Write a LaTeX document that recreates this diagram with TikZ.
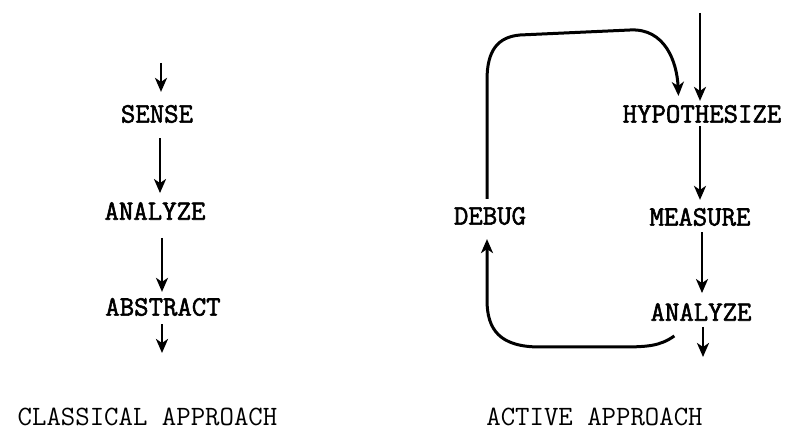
\documentclass[tikz,border=0pt]{standalone}
\usepackage{fontspec}
\setmonofont{Latin Modern Mono}[AutoFakeBold=2]
\usetikzlibrary{arrows.meta}
\begin{document}
\begin{tikzpicture}[x=1pt,y=-1pt,
  lbl/.style={font=\ttfamily\bfseries\fontsize{28}{28}\selectfont, inner sep=0pt},
  captiontext/.style={font=\ttfamily\fontsize{28}{28}\selectfont, inner sep=0pt},
  arrowtip/.style={-{Stealth[length=14pt,width=12pt,inset=4pt]}},
  flow/.style={line width=2.8pt, arrowtip},
  loopline/.style={line width=3pt, line join=round}]
\useasboundingbox (0,0) rectangle (790,435);
% left column
\node[lbl] (sense) at (157,114) {SENSE};
\node[lbl] (analyzeL) at (155,211) {ANALYZE};
\node[lbl] (abstract) at (163,307) {ABSTRACT};
\node[captiontext] (classical) at (147.5,417) {CLASSICAL APPROACH};
\coordinate (inL) at (161,63);
\coordinate (outL) at (162,353);
\draw[flow] (inL) -- ([xshift=4pt,yshift=13pt]sense.north);
\draw[flow] ([xshift=3pt,yshift=-15pt]sense.south) -- ([xshift=5pt,yshift=9pt]analyzeL.north);
\draw[flow] ([xshift=7pt,yshift=-18pt]analyzeL.south) -- ([xshift=-1pt,yshift=6pt]abstract.north);
\draw[flow] ([xshift=-1pt,yshift=-8pt]abstract.south) -- (outL);
% right column
\node[lbl] (hyp) at (702,114) {HYPOTHESIZE};
\node[lbl] (measure) at (700,217) {MEASURE};
\node[lbl] (analyzeR) at (701,312) {ANALYZE};
\node[lbl] (debug) at (490,216) {DEBUG};
\node[captiontext] (active) at (594.5,417) {ACTIVE APPROACH};
\coordinate (inR) at (700,13);
\coordinate (outR) at (703,357);
\draw[flow] (inR) -- ([xshift=-2pt,yshift=4pt]hyp.north);
\draw[flow] ([xshift=-2pt,yshift=-3pt]hyp.south) -- ([yshift=8pt]measure.north);
\draw[flow] ([xshift=2pt,yshift=-6pt]measure.south) -- ([xshift=1pt,yshift=10pt]analyzeR.north);
\draw[flow] ([xshift=2pt,yshift=-6pt]analyzeR.south) -- (outR);
% feedback loop: ANALYZE -> DEBUG
\draw[loopline, arrowtip] ([xshift=24pt,yshift=-15pt]analyzeR.south west)
  .. controls (660,346) and (648,347) .. (620,347)
  -- (540,347)
  .. controls (500,347) and (487,330) .. (487,300)
  -- ([xshift=-3pt,yshift=-14pt]debug.south);
% DEBUG -> HYPOTHESIZE
\draw[loopline, arrowtip] ([xshift=-3pt,yshift=8pt]debug.north)
  -- (487,80)
  .. controls (487,50) and (498,37) .. (520,35)
  -- (630,30)
  .. controls (665,28) and (677,62) .. ([xshift=56pt,yshift=9pt]hyp.north west);
\end{tikzpicture}
\end{document}
